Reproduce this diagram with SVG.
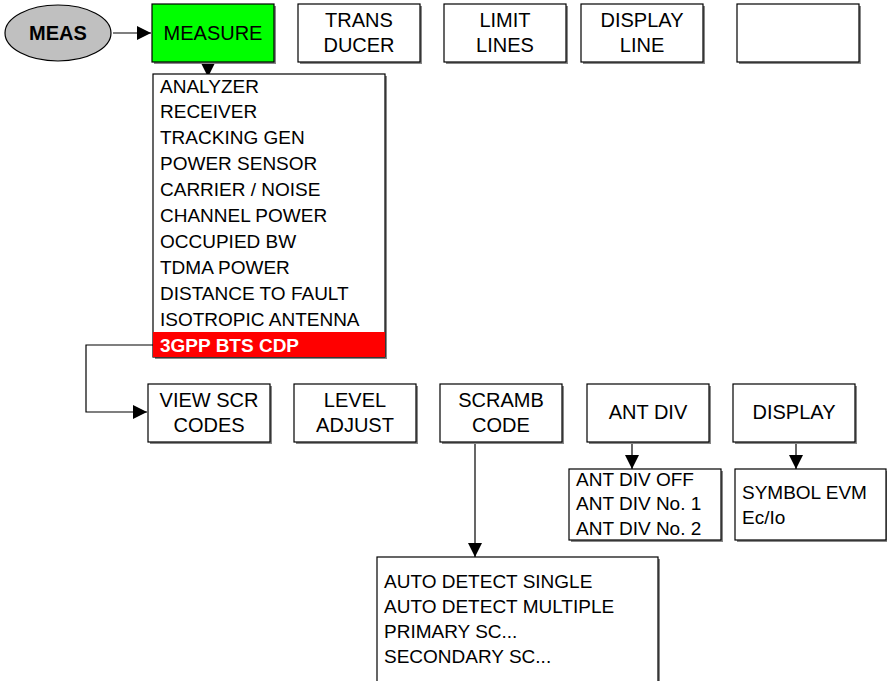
<svg xmlns="http://www.w3.org/2000/svg" width="887" height="681" viewBox="0 0 887 681">
<style>
.b{fill:#fff;stroke:#000;stroke-width:1.2}
.sh{fill:#888;stroke:none}
.t{font-family:"Liberation Sans",Arial,sans-serif;font-size:20px;fill:#000;text-anchor:middle;dominant-baseline:central}
.l{font-family:"Liberation Sans",Arial,sans-serif;font-size:19px;fill:#000;dominant-baseline:central}
.c{fill:none;stroke:#000;stroke-width:1.2}
</style>
<defs>
<marker id="a" viewBox="0 0 10 10" refX="10" refY="5" markerWidth="14" markerHeight="14" markerUnits="userSpaceOnUse" orient="auto">
<path d="M0,0L10,5L0,10z" fill="#000"/>
</marker>
</defs>
<g id="connectors">
<line class="c" x1="113" y1="33" x2="151" y2="33" marker-end="url(#a)"/>
<line class="c" x1="208" y1="62" x2="208" y2="77" marker-end="url(#a)"/>
<polyline class="c" points="153,345 86,345 86,412 147,412" marker-end="url(#a)"/>
<line class="c" x1="475" y1="442" x2="475" y2="557" marker-end="url(#a)"/>
<line class="c" x1="632" y1="442" x2="632" y2="469" marker-end="url(#a)"/>
<line class="c" x1="796" y1="442" x2="796" y2="469" marker-end="url(#a)"/>
</g>
<g id="meas">
<ellipse cx="58" cy="33" rx="53" ry="28" fill="#c0c0c0" stroke="#000" stroke-width="1.2"/>
<text class="t" x="58" y="33" font-weight="bold">MEAS</text>
</g>
<g id="measure">
<rect class="sh" x="154" y="6" width="122" height="58"/>
<rect x="152" y="4" width="122" height="58" fill="#00ff00" stroke="#000" stroke-width="1.2"/>
<text class="t" x="213" y="33">MEASURE</text>
</g>
<g id="transducer">
<rect class="sh" x="300" y="6" width="122" height="58"/>
<rect class="b" x="298" y="4" width="122" height="58"/>
<text class="t" x="359" y="20">TRANS</text>
<text class="t" x="359" y="45">DUCER</text>
</g>
<g id="limitlines">
<rect class="sh" x="446" y="6" width="122" height="58"/>
<rect class="b" x="444" y="4" width="122" height="58"/>
<text class="t" x="505" y="20">LIMIT</text>
<text class="t" x="505" y="45">LINES</text>
</g>
<g id="displayline">
<rect class="sh" x="583" y="6" width="122" height="58"/>
<rect class="b" x="581" y="4" width="122" height="58"/>
<text class="t" x="642" y="20">DISPLAY</text>
<text class="t" x="642" y="45">LINE</text>
</g>
<g id="empty">
<rect class="sh" x="739" y="6" width="122" height="58"/>
<rect class="b" x="737" y="4" width="122" height="58"/>
</g>
<g id="measlist">
<rect class="sh" x="155" y="76" width="232" height="283"/>
<rect class="b" x="153" y="74" width="232" height="283"/>
<rect x="153" y="332" width="232" height="25" fill="#ff0000"/>
<text class="l" x="160" y="86">ANALYZER</text>
<text class="l" x="160" y="111">RECEIVER</text>
<text class="l" x="160" y="137">TRACKING GEN</text>
<text class="l" x="160" y="163">POWER SENSOR</text>
<text class="l" x="160" y="189">CARRIER / NOISE</text>
<text class="l" x="160" y="215">CHANNEL POWER</text>
<text class="l" x="160" y="241">OCCUPIED BW</text>
<text class="l" x="160" y="267">TDMA POWER</text>
<text class="l" x="160" y="293">DISTANCE TO FAULT</text>
<text class="l" x="160" y="319">ISOTROPIC ANTENNA</text>
<text class="l" x="160" y="345" fill="#fff" style="fill:#fff" font-weight="bold">3GPP BTS CDP</text>
</g>
<g id="viewscr">
<rect class="sh" x="150" y="386" width="122" height="58"/>
<rect class="b" x="148" y="384" width="122" height="58"/>
<text class="t" x="209" y="400">VIEW SCR</text>
<text class="t" x="209" y="425">CODES</text>
</g>
<g id="leveladjust">
<rect class="sh" x="296" y="386" width="122" height="58"/>
<rect class="b" x="294" y="384" width="122" height="58"/>
<text class="t" x="355" y="400">LEVEL</text>
<text class="t" x="355" y="425">ADJUST</text>
</g>
<g id="scramb">
<rect class="sh" x="442" y="386" width="122" height="58"/>
<rect class="b" x="440" y="384" width="122" height="58"/>
<text class="t" x="501" y="400">SCRAMB</text>
<text class="t" x="501" y="425">CODE</text>
</g>
<g id="antdiv">
<rect class="sh" x="589" y="386" width="122" height="58"/>
<rect class="b" x="587" y="384" width="122" height="58"/>
<text class="t" x="648" y="412">ANT DIV</text>
</g>
<g id="display">
<rect class="sh" x="735" y="386" width="122" height="58"/>
<rect class="b" x="733" y="384" width="122" height="58"/>
<text class="t" x="794" y="412">DISPLAY</text>
</g>
<g id="scrlist">
<rect class="sh" x="379" y="559" width="281" height="130"/>
<rect class="b" x="377" y="557" width="281" height="130"/>
<text class="l" x="384" y="581">AUTO DETECT SINGLE</text>
<text class="l" x="384" y="606">AUTO DETECT MULTIPLE</text>
<text class="l" x="384" y="631">PRIMARY SC...</text>
<text class="l" x="384" y="656">SECONDARY SC...</text>
</g>
<g id="antlist">
<rect class="sh" x="571" y="471" width="152" height="71"/>
<rect class="b" x="569" y="469" width="152" height="71"/>
<text class="l" x="576" y="479">ANT DIV OFF</text>
<text class="l" x="576" y="503">ANT DIV No. 1</text>
<text class="l" x="576" y="528">ANT DIV No. 2</text>
</g>
<g id="displist">
<rect class="sh" x="737" y="471" width="152" height="71"/>
<rect class="b" x="735" y="469" width="151" height="71"/>
<text class="l" x="742" y="492">SYMBOL EVM</text>
<text class="l" x="742" y="517">Ec/Io</text>
</g>
</svg>
